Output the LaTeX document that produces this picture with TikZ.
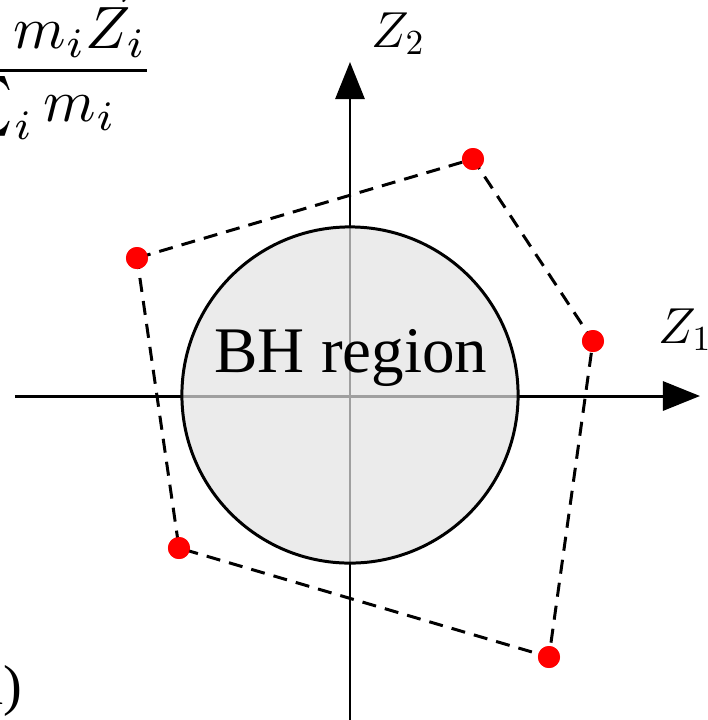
\documentclass[tikz,border=0pt]{standalone}
\usepackage{fontspec}
\setmainfont{Liberation Serif}
\usetikzlibrary{arrows.meta}
\begin{document}
\begin{tikzpicture}[
  x=0.01cm, y=-0.01cm,
  axis/.style={line width=0.85pt, -{Triangle[length=0.37cm, width=0.29cm]}},
  mass/.style={circle, fill=red, inner sep=0pt, minimum size=0.22cm},
  hull/.style={line width=0.85pt, dash pattern=on 4pt off 2.6pt},
  every node/.style={inner sep=0pt}
]
  \useasboundingbox (0,0) rectangle (708,720);
  \clip (0,0) rectangle (708,720);

  \coordinate (xl) at (15,396);
  \coordinate (xr) at (700,396);
  \coordinate (yb) at (350,725);
  \coordinate (yt) at (350,62);

  \draw[axis] (xl) -- (xr);
  \draw[axis] (yb) -- (yt);

  \node[circle, draw=black, line width=0.85pt, fill=gray!22, fill opacity=0.7,
        minimum size=3.36cm] (bh) at (350,395) {};
  \node[anchor=base, font=\fontsize{18.5}{22}\selectfont] (bhlabel) at (351,372) {BH region};

  \node[mass] (p1) at (137,258) {};
  \node[mass] (p2) at (473,159) {};
  \node[mass] (p3) at (593,341) {};
  \node[mass] (p4) at (549,657) {};
  \node[mass] (p5) at (179,548) {};

  \draw[hull] (p1.center) -- (p2.center) -- (p3.center) -- (p4.center) -- (p5.center) -- cycle;
  \foreach \p in {p1,p2,p3,p4,p5}
    \node[mass] at (\p) {};

  \node[anchor=base west, font=\fontsize{14.4}{17}\selectfont] (z2) at (371,47) {$Z_2$};
  \node[anchor=base west, font=\fontsize{14.4}{17}\selectfont] (z1) at (658,343) {$Z_1$};

  \node[anchor=base east, scale=1.7, font=\fontsize{14.4}{17}\selectfont] (com) at (155,92)
    {$\frac{\sum_i m_i\vec{Z}_i}{\sum_i m_i}$};
  \node[anchor=base east, font=\fontsize{16}{19}\selectfont] (tag) at (23,704) {(a)};
\end{tikzpicture}
\end{document}
